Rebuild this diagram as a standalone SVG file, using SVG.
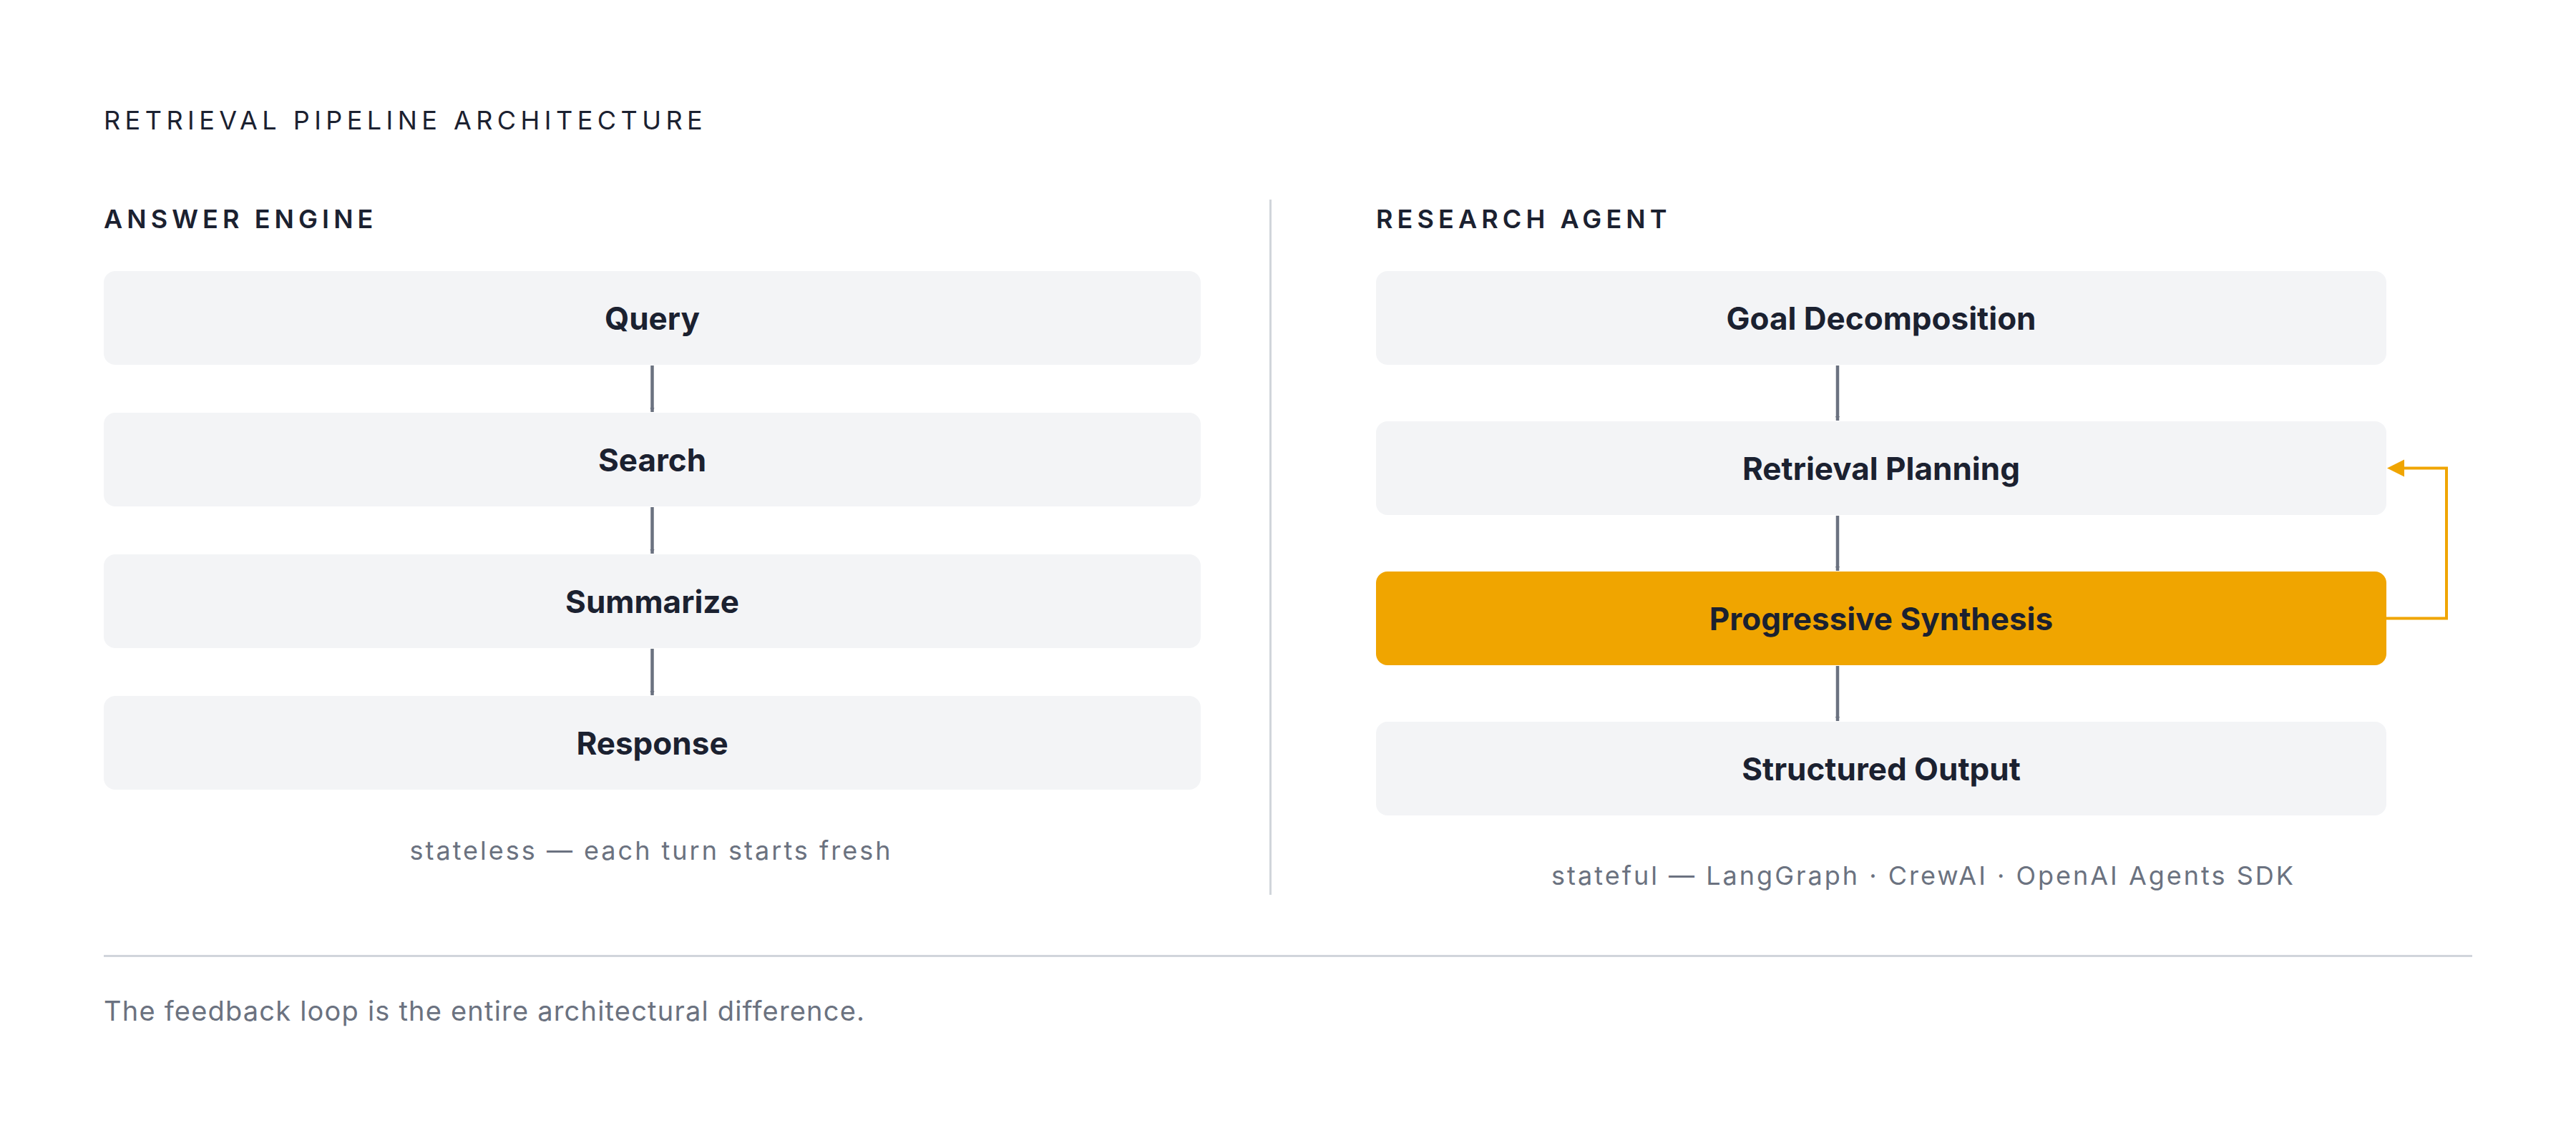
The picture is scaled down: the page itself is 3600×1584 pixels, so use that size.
<svg xmlns="http://www.w3.org/2000/svg" width="3600" height="1584" viewBox="0 0 3600 1584">
  <style>
    .title { font-family: Inter, "Noto Sans", sans-serif; font-size: 36px; font-weight: 400; fill: #1b2130; letter-spacing: 6.45px; }
    .section { font-family: Inter, "Noto Sans", sans-serif; font-size: 36px; font-weight: 600; fill: #1b2130; letter-spacing: 6.1px; }
    .box { fill: #f3f4f6; }
    .box.hl { fill: #f0a500; }
    .label { font-family: Inter, "Noto Sans", sans-serif; font-size: 44px; font-weight: 700; fill: #1b2130; text-anchor: middle; }
    .note { font-family: Inter, "Noto Sans", sans-serif; font-size: 36px; font-weight: 400; fill: #6b7280; letter-spacing: 3px; }
    .caption { font-family: Inter, "Noto Sans", sans-serif; font-size: 38px; font-weight: 400; fill: #6b7280; letter-spacing: 1.2px; }
    .conn { stroke: #6b7280; stroke-width: 4.5; fill: none; }
    .loop { stroke: #f0a500; stroke-width: 4; fill: none; }
    .rule { stroke: #d1d5db; stroke-width: 3; }
  </style>
  <defs>
    <marker id="arrGray" viewBox="0 0 6 12" refX="6" refY="3" markerWidth="6" markerHeight="12" markerUnits="userSpaceOnUse" orient="auto">
      <path d="M0,0 L6,3 L0,6 Z" fill="#6b7280"/>
    </marker>
  </defs>
  <rect width="3600" height="1584" fill="#ffffff"/>

  <text class="title" x="145" y="180.5">RETRIEVAL PIPELINE ARCHITECTURE</text>

  <g id="answer-engine">
    <text class="section" x="145" y="318.5">ANSWER ENGINE</text>
  </g>
  <g id="research-agent">
    <text class="section" x="1923" y="318.5">RESEARCH AGENT</text>
  </g>

  <line class="rule" x1="1775.5" y1="279" x2="1775.5" y2="1251"/>

  <g id="connectors">
    <line class="conn" x1="911.5" y1="511" x2="911.5" y2="576" marker-end="url(#arrGray)"/>
    <line class="conn" x1="911.5" y1="709" x2="911.5" y2="774" marker-end="url(#arrGray)"/>
    <line class="conn" x1="911.5" y1="907" x2="911.5" y2="972" marker-end="url(#arrGray)"/>
    <line class="conn" x1="2568" y1="511" x2="2568" y2="588" marker-end="url(#arrGray)"/>
    <line class="conn" x1="2568" y1="721" x2="2568" y2="798" marker-end="url(#arrGray)"/>
    <line class="conn" x1="2568" y1="931" x2="2568" y2="1008" marker-end="url(#arrGray)"/>
    <path class="loop" d="M3335,864.5 H3419 V654.5 H3358"/>
    <path d="M3336,654.5 L3360,642.5 L3360,666.5 Z" fill="#f0a500"/>
  </g>

  <g id="node-query">
    <rect class="box" x="145" y="379" width="1533" height="131" rx="16"/>
    <text class="label" x="911.5" y="461">Query</text>
  </g>
  <g id="node-search">
    <rect class="box" x="145" y="577" width="1533" height="131" rx="16"/>
    <text class="label" x="911.5" y="659">Search</text>
  </g>
  <g id="node-summarize">
    <rect class="box" x="145" y="775" width="1533" height="131" rx="16"/>
    <text class="label" x="911.5" y="857">Summarize</text>
  </g>
  <g id="node-response">
    <rect class="box" x="145" y="973" width="1533" height="131" rx="16"/>
    <text class="label" x="911.5" y="1055">Response</text>
  </g>

  <g id="node-goal">
    <rect class="box" x="1923" y="379" width="1412" height="131" rx="16"/>
    <text class="label" x="2629" y="461">Goal Decomposition</text>
  </g>
  <g id="node-planning">
    <rect class="box" x="1923" y="589" width="1412" height="131" rx="16"/>
    <text class="label" x="2629" y="671">Retrieval Planning</text>
  </g>
  <g id="node-synthesis">
    <rect class="box hl" x="1923" y="799" width="1412" height="131" rx="16"/>
    <text class="label" x="2629" y="881">Progressive Synthesis</text>
  </g>
  <g id="node-output">
    <rect class="box" x="1923" y="1009" width="1412" height="131" rx="16"/>
    <text class="label" x="2629" y="1091">Structured Output</text>
  </g>

  <text class="note" x="910" y="1202" text-anchor="middle">stateless — each turn starts fresh</text>
  <text class="note" x="2688" y="1237" text-anchor="middle">stateful — LangGraph · CrewAI · OpenAI Agents SDK</text>

  <line class="rule" x1="145" y1="1336.5" x2="3455" y2="1336.5"/>

  <text class="caption" x="145" y="1427">The feedback loop is the entire architectural difference.</text>
</svg>
